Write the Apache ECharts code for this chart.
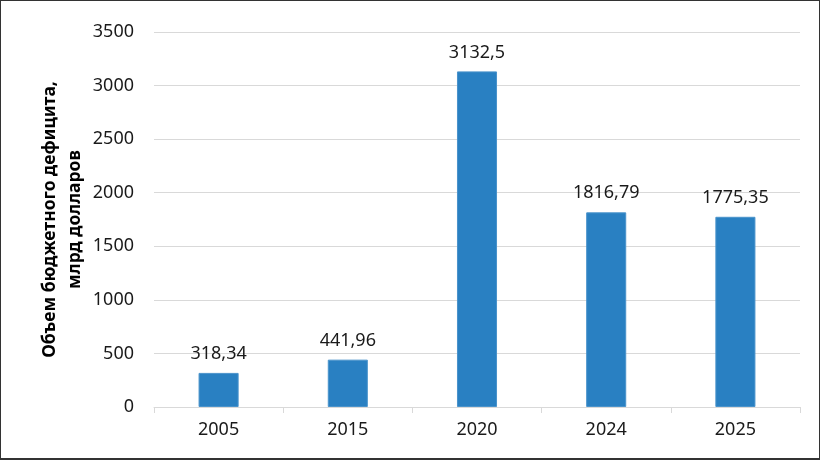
<!DOCTYPE html>
<html>
<head>
<meta charset="utf-8">
<script src="https://cdn.jsdelivr.net/npm/echarts@6/dist/echarts.min.js"></script>
<style>
html,body{margin:0;padding:0;background:#fff;}
#frame{width:820px;height:460px;box-sizing:border-box;border:1px solid #333;border-bottom-width:2px;position:relative;overflow:hidden;}
#chart{position:absolute;left:-1px;top:-1px;width:820px;height:460px;}
</style>
</head>
<body>
<div id="frame"><div id="chart"></div></div>
<script>
var categories = ['2005', '2015', '2020', '2024', '2025'];
var deficit = [318.34, 441.96, 3132.5, 1816.79, 1775.35];
var yTicks = [0, 500, 1000, 1500, 2000, 2500, 3000, 3500];
var yTitle = 'Объем бюджетного дефицита,\nмлрд долларов';

var chart = echarts.init(document.getElementById('chart'), null, {renderer: 'canvas'});
var font = 'Noto Sans';
chart.setOption({
  animation: false,
  backgroundColor: '#fff',
  grid: {left: 154, right: 20, top: 32, bottom: 53},
  xAxis: {
    type: 'category',
    data: categories,
    axisLine: {show: true, lineStyle: {color: '#d9d9d9', width: 1}},
    axisTick: {show: true, alignWithLabel: false, length: 6, lineStyle: {color: '#d9d9d9'}},
    axisLabel: {color: '#1a1a1a', fontFamily: font, fontSize: 18, margin: 14}
  },
  yAxis: {
    type: 'value',
    min: yTicks[0],
    max: yTicks[yTicks.length - 1],
    interval: 500,
    name: yTitle,
    nameLocation: 'middle',
    nameRotate: 90,
    nameGap: 66,
    nameMoveOverlap: false,
    nameTextStyle: {fontFamily: font, fontSize: 17.5, fontWeight: 'bold', color: '#000', lineHeight: 25},
    axisLine: {show: false},
    axisTick: {show: false},
    axisLabel: {color: '#1a1a1a', fontFamily: font, fontSize: 18, margin: 20,
      formatter: function (v) { return String(v); }},
    splitLine: {show: true, lineStyle: {color: '#d9d9d9', width: 1}}
  },
  series: [{
    type: 'bar',
    data: deficit,
    barWidth: '31%',
    itemStyle: {color: '#2980c2', borderColor: '#4a93cb', borderWidth: 1},
    label: {
      show: true,
      position: 'top',
      distance: 10,
      fontFamily: font,
      fontSize: 18,
      color: '#1a1a1a',
      formatter: function (p) { return String(p.value).replace('.', ','); }
    }
  }]
});
</script>
</body>
</html>
